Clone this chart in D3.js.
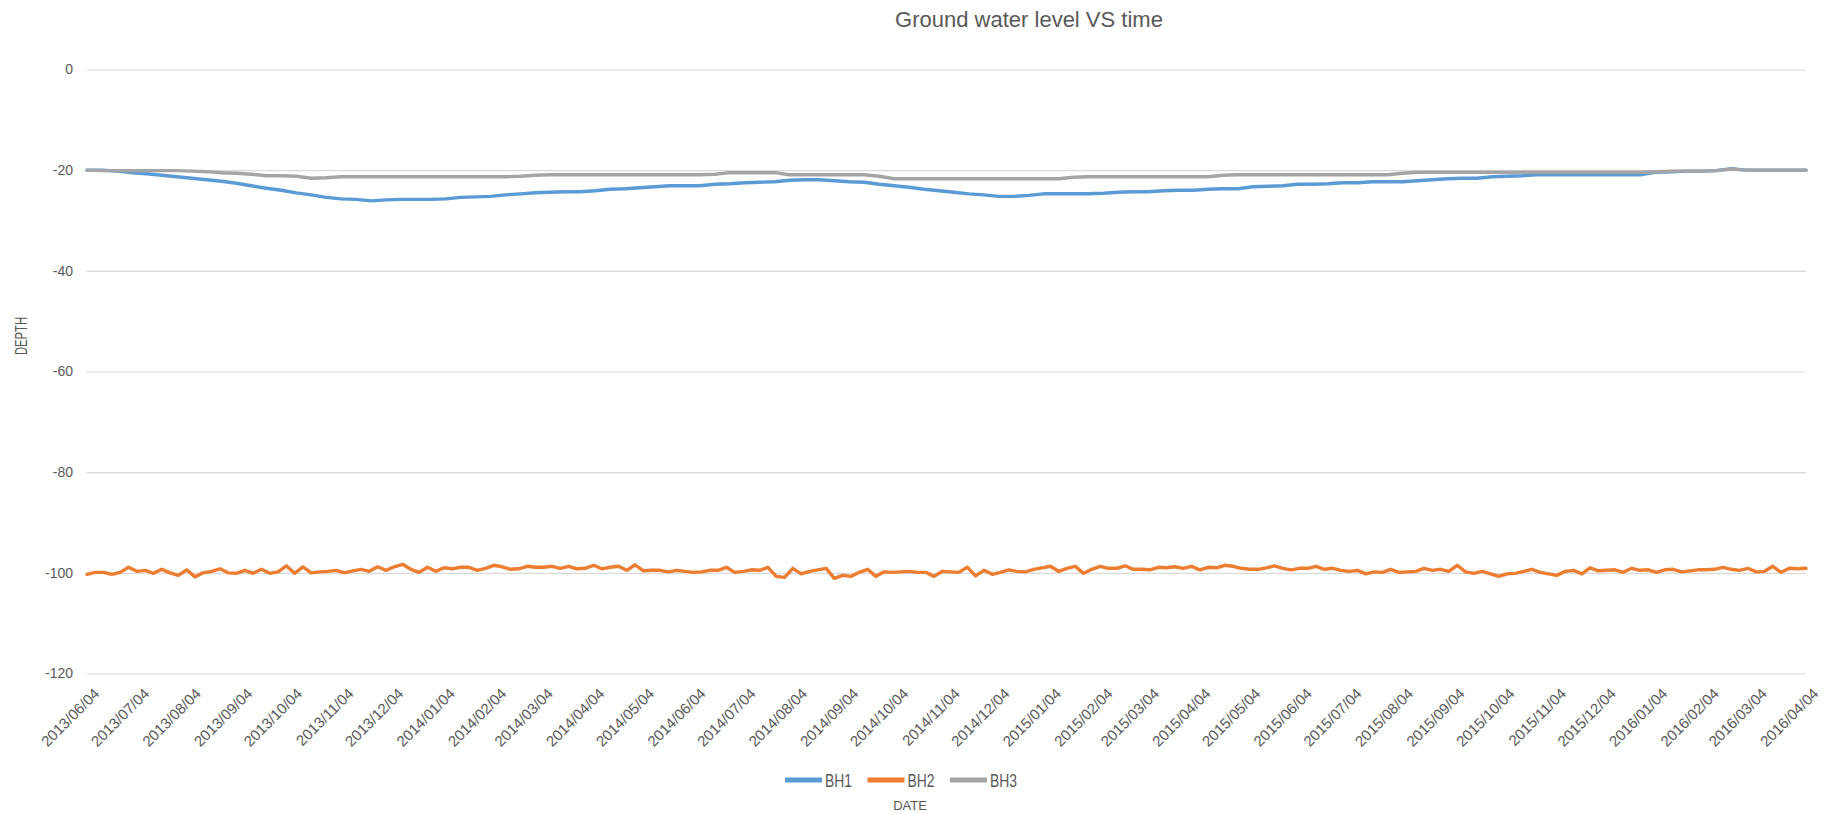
<!DOCTYPE html>
<html>
<head>
<meta charset="utf-8">
<script src="https://cdn.jsdelivr.net/npm/d3@7"></script>
<style>
  html, body { margin: 0; padding: 0; background: #ffffff; }
  svg { display: block; font-family: "Liberation Sans", Arial, sans-serif; }
</style>
</head>
<body>
<svg id="chart" width="1830" height="814"></svg>
<script>
// Groundwater depth readings for three boreholes.
const firstDay = "2013-06-04";
const lastDay = "2016-04-04";
const levelStepDays = 9;   // BH1 / BH3 sampled every 9 days
const bh2StepDays = 5;     // BH2 sampled every 5 days

const seriesNames = ["BH1", "BH2", "BH3"];

const bh1 = [
  -20.0,-20.0,-20.2,-20.5,-20.7,-21.0,-21.3,-21.6,-21.9,-22.2,
  -22.6,-23.1,-23.6,-24.0,-24.5,-24.9,-25.4,-25.7,-25.8,-26.1,
  -25.9,-25.8,-25.8,-25.8,-25.7,-25.4,-25.3,-25.2,-24.9,-24.7,
  -24.5,-24.4,-24.3,-24.3,-24.1,-23.8,-23.7,-23.5,-23.3,-23.1,
  -23.1,-23.1,-22.8,-22.7,-22.5,-22.4,-22.3,-22.0,-21.9,-21.9,
  -22.1,-22.3,-22.4,-22.8,-23.1,-23.4,-23.8,-24.1,-24.4,-24.7,
  -24.9,-25.2,-25.2,-25.0,-24.7,-24.7,-24.7,-24.7,-24.6,-24.4,
  -24.3,-24.3,-24.1,-24.0,-24.0,-23.8,-23.7,-23.7,-23.3,-23.2,
  -23.1,-22.8,-22.8,-22.7,-22.5,-22.5,-22.3,-22.3,-22.3,-22.1,
  -21.9,-21.7,-21.6,-21.6,-21.3,-21.2,-21.1,-20.9,-20.9,-20.9,
  -20.9,-20.9,-20.9,-20.9,-20.9,-20.4,-20.3,-20.2,-20.2,-20.1,
  -19.7,-20.0,-20.0,-20.0,-20.0,-20.0
];

const bh2 = [
  -100.3,-99.9,-99.9,-100.3,-99.9,-98.9,-99.7,-99.5,-100.1,-99.3,
  -100.0,-100.5,-99.4,-100.8,-100.0,-99.7,-99.2,-100.0,-100.1,-99.5,
  -100.1,-99.3,-100.1,-99.8,-98.6,-100.1,-98.8,-100.0,-99.8,-99.7,
  -99.5,-100.0,-99.6,-99.3,-99.7,-98.8,-99.5,-98.8,-98.3,-99.3,
  -99.9,-98.9,-99.7,-99.0,-99.2,-98.9,-98.9,-99.5,-99.1,-98.5,
  -98.8,-99.3,-99.2,-98.7,-98.9,-98.9,-98.7,-99.1,-98.7,-99.2,
  -99.1,-98.5,-99.2,-98.9,-98.7,-99.5,-98.4,-99.6,-99.5,-99.5,
  -99.8,-99.5,-99.7,-99.9,-99.8,-99.5,-99.5,-98.9,-99.9,-99.7,
  -99.4,-99.5,-98.9,-100.7,-100.9,-99.1,-100.2,-99.7,-99.4,-99.1,
  -101.1,-100.5,-100.7,-99.9,-99.3,-100.7,-99.8,-99.9,-99.8,-99.7,
  -99.9,-99.9,-100.7,-99.7,-99.8,-99.9,-98.9,-100.6,-99.5,-100.3,
  -99.9,-99.4,-99.7,-99.8,-99.3,-99.0,-98.7,-99.7,-99.1,-98.7,
  -100.1,-99.3,-98.7,-99.1,-99.1,-98.6,-99.3,-99.3,-99.4,-98.9,
  -99.0,-98.8,-99.1,-98.7,-99.4,-98.9,-99.0,-98.5,-98.7,-99.1,
  -99.3,-99.3,-99.0,-98.6,-99.1,-99.4,-99.1,-99.1,-98.7,-99.3,
  -99.1,-99.5,-99.7,-99.5,-100.2,-99.8,-99.9,-99.3,-99.9,-99.8,
  -99.7,-99.1,-99.5,-99.3,-99.7,-98.5,-99.8,-100.1,-99.7,-100.2,
  -100.7,-100.2,-100.1,-99.7,-99.3,-99.9,-100.2,-100.5,-99.7,-99.5,
  -100.2,-99.0,-99.6,-99.5,-99.4,-99.9,-99.1,-99.5,-99.4,-99.9,
  -99.4,-99.3,-99.8,-99.6,-99.4,-99.4,-99.3,-98.9,-99.3,-99.5,
  -99.1,-99.8,-99.7,-98.7,-99.9,-99.1,-99.2,-99.1
];

const bh3 = [
  -20.0,-20.1,-20.1,-20.1,-20.1,-20.1,-20.1,-20.2,-20.3,-20.5,
  -20.6,-20.8,-21.1,-21.1,-21.2,-21.6,-21.5,-21.3,-21.3,-21.3,
  -21.3,-21.3,-21.3,-21.3,-21.3,-21.3,-21.3,-21.3,-21.3,-21.2,
  -21.0,-20.9,-20.9,-20.9,-20.9,-20.9,-20.9,-20.9,-20.9,-20.9,
  -20.9,-20.9,-20.8,-20.5,-20.5,-20.5,-20.5,-20.9,-20.9,-20.9,
  -20.9,-20.9,-20.9,-21.2,-21.7,-21.7,-21.7,-21.7,-21.7,-21.7,
  -21.7,-21.7,-21.7,-21.7,-21.7,-21.7,-21.4,-21.3,-21.3,-21.3,
  -21.3,-21.3,-21.3,-21.3,-21.3,-21.3,-21.0,-20.9,-20.9,-20.9,
  -20.9,-20.9,-20.9,-20.9,-20.9,-20.9,-20.9,-20.9,-20.6,-20.4,
  -20.4,-20.4,-20.4,-20.4,-20.4,-20.4,-20.4,-20.4,-20.4,-20.4,
  -20.4,-20.4,-20.4,-20.4,-20.4,-20.3,-20.2,-20.2,-20.2,-20.1,
  -19.8,-20.0,-20.0,-20.0,-20.0,-20.0
];

const yTicks = [0, -20, -40, -60, -80, -100, -120];

const xTickLabels = [
  "2013/06/04","2013/07/04","2013/08/04","2013/09/04","2013/10/04","2013/11/04","2013/12/04",
  "2014/01/04","2014/02/04","2014/03/04","2014/04/04","2014/05/04","2014/06/04","2014/07/04",
  "2014/08/04","2014/09/04","2014/10/04","2014/11/04","2014/12/04","2015/01/04","2015/02/04",
  "2015/03/04","2015/04/04","2015/05/04","2015/06/04","2015/07/04","2015/08/04","2015/09/04",
  "2015/10/04","2015/11/04","2015/12/04","2016/01/04","2016/02/04","2016/03/04","2016/04/04"
];

const colors = { BH1: "#5b9bd5", BH2: "#ed7d31", BH3: "#a5a5a5" };
const textColor = "#595959";
const gridColor = "#d9d9d9";

// ---- layout ----
const plot = { left: 87, right: 1806, top: 69.5, bottom: 673.5 };

const svg = d3.select("#chart");
const parseDash = d3.utcParse("%Y-%m-%d");
const parseSlash = d3.utcParse("%Y/%m/%d");
const formatSlash = d3.utcFormat("%Y/%m/%d");

const x = d3.scaleUtc()
  .domain([parseDash(firstDay), parseDash(lastDay)])
  .range([plot.left, plot.right]);

const y = d3.scaleLinear()
  .domain([-120, 0])
  .range([plot.bottom, plot.top]);

function toPoints(values, stepDays) {
  const start = parseDash(firstDay);
  return values.map((v, i) => ({ date: d3.utcDay.offset(start, i * stepDays), value: v }));
}

const series = [
  { name: "BH1", points: toPoints(bh1, levelStepDays) },
  { name: "BH2", points: toPoints(bh2, bh2StepDays) },
  { name: "BH3", points: toPoints(bh3, levelStepDays) }
];

// Title
svg.append("text")
  .attr("x", 1029)
  .attr("y", 27)
  .attr("text-anchor", "middle")
  .attr("fill", textColor)
  .style("font-size", "22px")
  .text("Ground water level VS time");

// Horizontal gridlines with plain hyphen-minus labels
const yAxis = d3.axisLeft(y)
  .tickValues(yTicks)
  .tickSize(-(plot.right - plot.left))
  .tickPadding(14)
  .tickFormat(d => String(d));

const yG = svg.append("g")
  .attr("transform", `translate(${plot.left},0)`)
  .call(yAxis);
yG.select(".domain").remove();
yG.selectAll(".tick line").attr("stroke", gridColor).attr("stroke-width", 1.2);
yG.selectAll(".tick text")
  .attr("fill", textColor)
  .style("font-size", "14px")
  .style("font-family", "\"Liberation Sans\", Arial, sans-serif");

// X axis labels (rotated)
const xTickDates = xTickLabels.map(parseSlash);
const xAxis = d3.axisBottom(x)
  .tickValues(xTickDates)
  .tickSize(0)
  .tickFormat(formatSlash);

const xG = svg.append("g")
  .attr("transform", `translate(0,${plot.bottom})`)
  .call(xAxis);
xG.select(".domain").remove();
xG.selectAll(".tick text")
  .attr("fill", textColor)
  .style("font-size", "15px")
  .style("font-family", "\"Liberation Sans\", Arial, sans-serif")
  .attr("text-anchor", "end")
  .attr("dy", null)
  .attr("y", null)
  .attr("transform", "translate(13,21) rotate(-45)");

// Lines
const line = d3.line()
  .x(d => x(d.date))
  .y(d => y(d.value))
  .curve(d3.curveLinear);

svg.append("g")
  .selectAll("path")
  .data(series)
  .join("path")
  .attr("d", d => line(d.points))
  .attr("fill", "none")
  .attr("stroke", d => colors[d.name])
  .attr("stroke-width", 3.4)
  .attr("stroke-linejoin", "round")
  .attr("stroke-linecap", "round");

// Axis titles
svg.append("text")
  .attr("transform", "translate(27,336) rotate(-90)")
  .attr("text-anchor", "middle")
  .attr("fill", textColor)
  .style("font-size", "16px")
  .attr("textLength", 38)
  .attr("lengthAdjust", "spacingAndGlyphs")
  .text("DEPTH");

svg.append("text")
  .attr("x", 910)
  .attr("y", 810)
  .attr("text-anchor", "middle")
  .attr("fill", textColor)
  .style("font-size", "13px")
  .text("DATE");

// Legend
const legend = svg.append("g").attr("transform", "translate(785,780)");
const item = legend.selectAll("g")
  .data(seriesNames)
  .join("g")
  .attr("transform", (d, i) => `translate(${i * 82.5},0)`);
item.append("line")
  .attr("x1", 0).attr("x2", 37)
  .attr("y1", 0).attr("y2", 0)
  .attr("stroke", d => colors[d])
  .attr("stroke-width", 5);
item.append("text")
  .attr("x", 40)
  .attr("y", 7)
  .attr("fill", textColor)
  .style("font-size", "18px")
  .attr("textLength", 27)
  .attr("lengthAdjust", "spacingAndGlyphs")
  .text(d => d);
</script>
</body>
</html>
